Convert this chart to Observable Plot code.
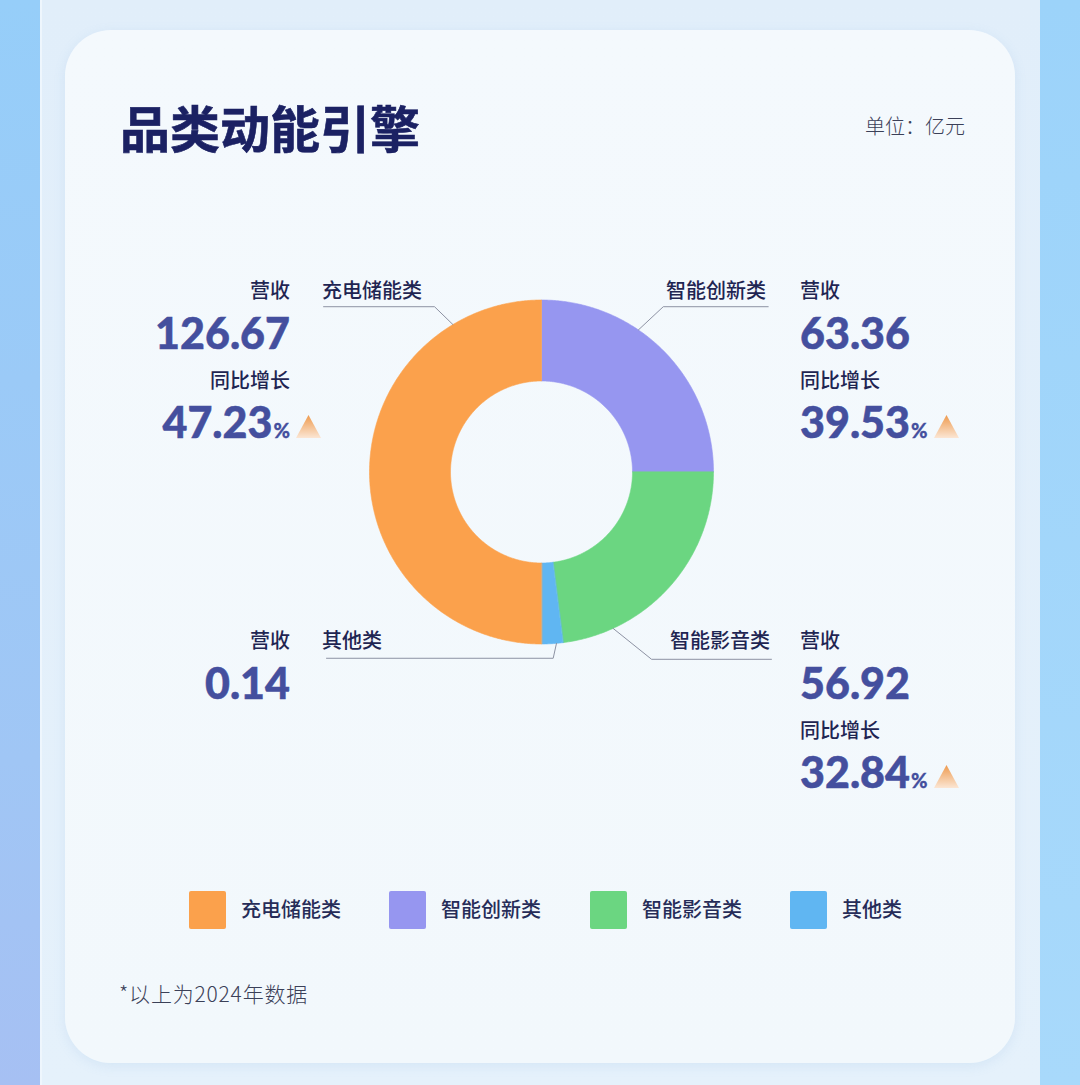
<!DOCTYPE html>
<html>
<head>
<meta charset="utf-8">
<script src="https://cdn.jsdelivr.net/npm/d3@7"></script>
<script src="https://cdn.jsdelivr.net/npm/@observablehq/plot@0.6"></script>
<style>
html,body{margin:0;padding:0;}
body{width:1080px;height:1085px;position:relative;overflow:hidden;background:linear-gradient(#E1EEFA,#E5F1FB);font-family:"Noto Sans CJK SC","Noto Sans",sans-serif;}
.stripL{position:absolute;left:0;top:0;width:40px;height:1085px;background:linear-gradient(#96CEF9,#A0C6F5 70%,#A6C0F3);}
.edgeL{position:absolute;left:40px;top:0;width:2px;height:1085px;background:#EEF6FD;}
.stripR{position:absolute;left:1040px;top:0;width:40px;height:1085px;background:linear-gradient(#9CD3FA,#A8D9FB);}
.card{position:absolute;left:65px;top:30px;width:950px;height:1033px;border-radius:46px;background:linear-gradient(#F4F9FD,#F2F8FC);box-shadow:0 3px 12px rgba(120,165,215,.15);}
.t{position:absolute;line-height:1;white-space:nowrap;}
.title{font-size:50px;font-weight:700;color:#1B2163;-webkit-text-stroke:0.6px #1B2163;}
.unit{font-size:20px;font-weight:300;color:#3B4058;}
.lab{font-size:20px;font-weight:500;color:#1F2552;}
.num{font-family:Lato,"Open Sans",sans-serif;font-weight:900;font-size:43px;color:#444F9E;-webkit-text-stroke:0.5px #444F9E;}
.pct{font-size:20px;margin-left:1px;-webkit-text-stroke:0.3px #444F9E;}
.tri{position:absolute;left:calc(100% + 6px);top:15px;}
.leg{font-size:20px;font-weight:500;color:#262C58;}
.sw{position:absolute;width:37px;height:38px;border-radius:2px;}
.foot{font-size:21px;font-weight:300;color:#3B4058;letter-spacing:0.8px;}
#plot{position:absolute;left:0;top:200px;}
</style>
</head>
<body>
<div class="stripL"></div><div class="edgeL"></div><div class="stripR"></div>
<div class="card"></div>
<div id="plot"></div>
<div id="ann"></div>
<script>
// ---- data ----
const categories = ["充电储能类", "智能创新类", "智能影音类", "其他类"];
const revenue = [126.67, 63.36, 56.92, 0.14];          // 营收（亿元）
const growth = [47.23, 39.53, 32.84, null];            // 同比增长 %
const share = [50, 25, 23, 2];                         // arc share as drawn in the donut (%)
const colors = ["#FBA14C", "#9696F0", "#6BD681", "#60B6F2"];
const pieOrder = ["智能创新类", "智能影音类", "其他类", "充电储能类"]; // clockwise from 12 o'clock
const titleText = "品类动能引擎";
const unitText = "单位：亿元";
const footText = "*以上为2024年数据";
const revLabel = "营收";
const growLabel = "同比增长";

// ---- layout (not data) ----
const R = 1, r0 = 91 / 172;
const leaderCfg = {
  "充电储能类": {a: 329, elbow: [-0.622, 0.961], endX: -1.267},
  "智能创新类": {a: 34.3, elbow: [0.708, 0.961], endX: 1.318},
  "智能影音类": {a: 155.4, elbow: [0.640, -1.089], endX: 1.337},
  "其他类":     {a: 175, elbow: [0.068, -1.083], endX: -1.25}
};

// donut polygons built from d3.pie
const arcs = d3.pie().sort(null).startAngle(0).endAngle(2 * Math.PI)
  .value(d => d.share)(pieOrder.map(c => ({cat: c, share: share[categories.indexOf(c)]})));
const ring = [];
for (const s of arcs) {
  const n = Math.max(4, Math.ceil((s.endAngle - s.startAngle) / 0.008));
  for (let i = 0; i <= n; i++) {
    const a = s.startAngle + (s.endAngle - s.startAngle) * i / n;
    ring.push({cat: s.data.cat, x: R * Math.sin(a), y: R * Math.cos(a)});
  }
  for (let i = n; i >= 0; i--) {
    const a = s.startAngle + (s.endAngle - s.startAngle) * i / n;
    ring.push({cat: s.data.cat, x: r0 * Math.sin(a), y: r0 * Math.cos(a)});
  }
}
const leaders = [];
for (const c of categories) {
  const L = leaderCfg[c], a = L.a * Math.PI / 180;
  leaders.push({cat: c, x: R * Math.sin(a), y: R * Math.cos(a)});
  leaders.push({cat: c, x: L.elbow[0], y: L.elbow[1]});
  leaders.push({cat: c, x: L.endX, y: L.elbow[1]});
}

const cy = 471.5 - 200;
const chart = Plot.plot({
  width: 1080, height: 660, margin: 0,
  x: {domain: [-1, 1], range: [541 - 172, 541 + 172], axis: null},
  y: {domain: [-1, 1], range: [cy + 172, cy - 172], axis: null},
  color: {domain: categories, range: colors},
  style: {background: "transparent", overflow: "visible"},
  marks: [
    Plot.line(ring, {x: "x", y: "y", z: "cat", fill: "cat", stroke: "cat", strokeWidth: 0.6, curve: "linear-closed"}),
    Plot.line(leaders, {x: "x", y: "y", z: "cat", stroke: "#8D92A3", strokeWidth: 1})
  ]
});
document.getElementById("plot").appendChild(chart);

// ---- text overlays ----
const ann = document.getElementById("ann");
function put(html, cls, x, yc, size, align, k) {
  const d = document.createElement("div");
  d.className = "t " + cls;
  d.innerHTML = html;
  d.style.top = (yc - k * size) + "px";
  if (align === "right") d.style.right = (1080 - x) + "px"; else d.style.left = x + "px";
  ann.appendChild(d);
  return d;
}
const KC = 0.556, KL = 0.53;
put(titleText, "title", 120, 128.5, 50, "left", KC);
put(unitText, "unit", 965, 127, 20, "right", KC);
put(footText, "foot", 119, 995, 21, "left", KC);

const tri = (id) => `<svg class="tri" width="25" height="23" viewBox="0 0 25 23"><defs><linearGradient id="${id}" x1="0" y1="0" x2="0" y2="1"><stop offset="0" stop-color="#EE9A4E"/><stop offset="1" stop-color="#FBE6D4"/></linearGradient></defs><polygon points="12.5,0 25,23 0,23" fill="url(#${id})"/></svg>`;

const side = {"充电储能类": {s: "L", y: 291, labX: 322}, "智能创新类": {s: "R", y: 291, labX: 766},
              "智能影音类": {s: "R", y: 641, labX: 770}, "其他类": {s: "L", y: 641, labX: 322}};
categories.forEach((c, i) => {
  const S = side[c];
  const bx = S.s === "L" ? 290 : 800, al = S.s === "L" ? "right" : "left";
  put(c, "lab", S.labX, S.y, 20, S.s === "L" ? "left" : "right", KC);
  put(revLabel, "lab", bx, S.y, 20, al, KC);
  put(d3.format(".2f")(revenue[i]), "num", bx, S.y + 43, 43, al, KL);
  if (growth[i] != null) {
    put(growLabel, "lab", bx, S.y + 90, 20, al, KC);
    put(d3.format(".2f")(growth[i]) + `<span class="pct">%</span>` + tri("g" + i), "num", bx, S.y + 132, 43, al, KL);
  }
});

// legend
const legX = [189, 389, 590, 790];
categories.forEach((c, i) => {
  const s = document.createElement("div");
  s.className = "sw";
  s.style.left = legX[i] + "px"; s.style.top = "891px"; s.style.background = colors[i];
  ann.appendChild(s);
  put(c, "leg", legX[i] + 52, 910, 20, "left", KC);
});
</script>
</body>
</html>
